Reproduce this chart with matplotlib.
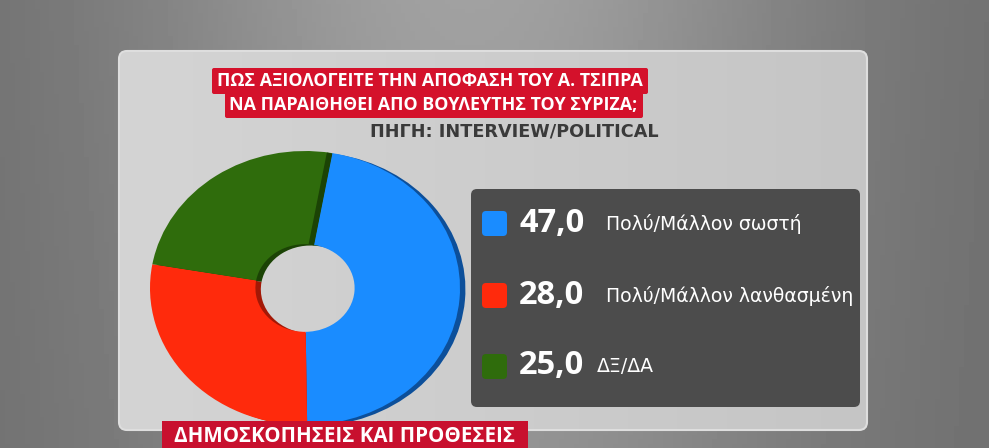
import matplotlib
matplotlib.use('Agg')
import matplotlib.pyplot as plt
from matplotlib.patches import FancyBboxPatch, Rectangle
import numpy as np

plt.rcParams['font.family'] = ['Open Sans', 'DejaVu Sans']

# poll data
labels = ['Πολύ/Μάλλον σωστή', 'Πολύ/Μάλλον λανθασμένη', 'ΔΞ/ΔΑ']
values = [47.0, 28.0, 25.0]
value_text = ['47,0', '28,0', '25,0']
colors = ['#1a8cff', '#ff2a0c', '#2f6c0c']
dark_colors = ['#0c4f9a', '#a31806', '#1b4305']

title_lines = ['ΠΩΣ ΑΞΙΟΛΟΓΕΙΤΕ ΤΗΝ ΑΠΟΦΑΣΗ ΤΟΥ Α. ΤΣΙΠΡΑ',
               'ΝΑ ΠΑΡΑΙΘΗΘΕΙ ΑΠΟ ΒΟΥΛΕΥΤΗΣ ΤΟΥ ΣΥΡΙΖΑ;']
source = 'ΠΗΓΗ: INTERVIEW/POLITICAL'
footer = 'ΔΗΜΟΣΚΟΠΗΣΕΙΣ ΚΑΙ ΠΡΟΘΕΣΕΙΣ'

W, H = 989, 448
fig = plt.figure(figsize=(W / 100, H / 100), dpi=100)

# background in pixel coordinates
ax = fig.add_axes([0, 0, 1, 1])
ax.set_xlim(0, W)
ax.set_ylim(H, 0)
ax.axis('off')

xx = np.linspace(0, W, 200)
yy = np.linspace(0, H, 100)
X, Y = np.meshgrid(xx, yy)
bg = 0.43 + 0.20 * np.exp(-((X - 470) / 340) ** 2) * (1 - 0.25 * Y / H)
ax.imshow(bg, cmap='gray', vmin=0, vmax=1, extent=(0, W, H, 0), aspect='auto', zorder=0)

# light panel
panel = FancyBboxPatch((119, 51), 748, 379, boxstyle='round,pad=0,rounding_size=8',
                       facecolor='none', edgecolor='#dedede', linewidth=1.5, zorder=2)
ax.add_patch(panel)
pg = 0.83 - 0.06 * (X - 119) / 748
img = ax.imshow(pg, cmap='gray', vmin=0, vmax=1, extent=(0, W, H, 0), aspect='auto', zorder=1)
img.set_clip_path(panel)

# title boxes
ax.add_patch(FancyBboxPatch((212, 68), 436, 26, boxstyle='round,pad=0,rounding_size=2',
                            facecolor='#d4112b', edgecolor='none', zorder=3))
ax.add_patch(FancyBboxPatch((225, 92), 418, 26, boxstyle='round,pad=0,rounding_size=2',
                            facecolor='#d4112b', edgecolor='none', zorder=3))
ax.text(430, 81, title_lines[0], color='white', fontsize=12.9, fontweight='bold',
        ha='center', va='center', zorder=4)
ax.text(433, 105, title_lines[1], color='white', fontsize=12.9, fontweight='bold',
        ha='center', va='center', zorder=4)
ax.text(514, 132, source, color='#3a3a3a', fontsize=12.7, fontweight='bold',
        family='DejaVu Sans', ha='center', va='center', zorder=4)

# legend box
ax.add_patch(FancyBboxPatch((471, 189), 389, 218, boxstyle='round,pad=0,rounding_size=6',
                            facecolor='#4c4c4c', edgecolor='none', zorder=3))
row_y = [223, 295, 366]
for i in range(len(values)):
    ax.add_patch(FancyBboxPatch((482, row_y[i] - 12), 25, 25,
                                boxstyle='round,pad=0,rounding_size=4',
                                facecolor=colors[i], edgecolor='none', zorder=4))
    ax.text(519, row_y[i], value_text[i], color='white', fontsize=23.5, fontweight='bold',
            ha='left', va='center', zorder=4)
    ax.text(606 if i < 2 else 597, row_y[i] + 1, labels[i], color='white', fontsize=13.6,
            family='DejaVu Sans', ha='left', va='center', zorder=4)

# donut, stretched into an ellipse
cx, cy, rx, ry = 305, 288, 155, 137
dax = fig.add_axes([(cx - rx) / W, (H - cy - ry) / H, 2 * rx / W, 2 * ry / H])
dax.set_zorder(1)
dax.patch.set_visible(False)
dax.pie(values, colors=dark_colors, startangle=80, counterclock=False, center=(0.035, -0.01),
        wedgeprops=dict(width=0.68, linewidth=0))
wedges, _ = dax.pie(values, colors=colors, startangle=80, counterclock=False,
                    wedgeprops=dict(width=0.68, linewidth=0))
# dark side of green wedge at the seam with blue
th = np.deg2rad(80)
dax.plot([0.32 * np.cos(th) - 0.015, np.cos(th) - 0.015], [0.32 * np.sin(th), np.sin(th)],
         color=dark_colors[2], linewidth=4, solid_capstyle='butt')
dax.set_aspect('auto')
dax.set_xlim(-1, 1)
dax.set_ylim(-1, 1)
dax.axis('off')
for a in dax.patches + dax.lines:
    a.set_clip_on(False)

# footer label on top
fax = fig.add_axes([0, 0, 1, 1])
fax.set_zorder(2)
fax.patch.set_visible(False)
fax.set_xlim(0, W)
fax.set_ylim(H, 0)
fax.axis('off')
fax.add_patch(Rectangle((162, 421), 366, 30, facecolor='#c8102e', edgecolor='none'))
fax.text(345, 437, footer, color='white', fontsize=14.8, fontweight='bold',
         ha='center', va='center')

fig.savefig('out.png', dpi=100)
